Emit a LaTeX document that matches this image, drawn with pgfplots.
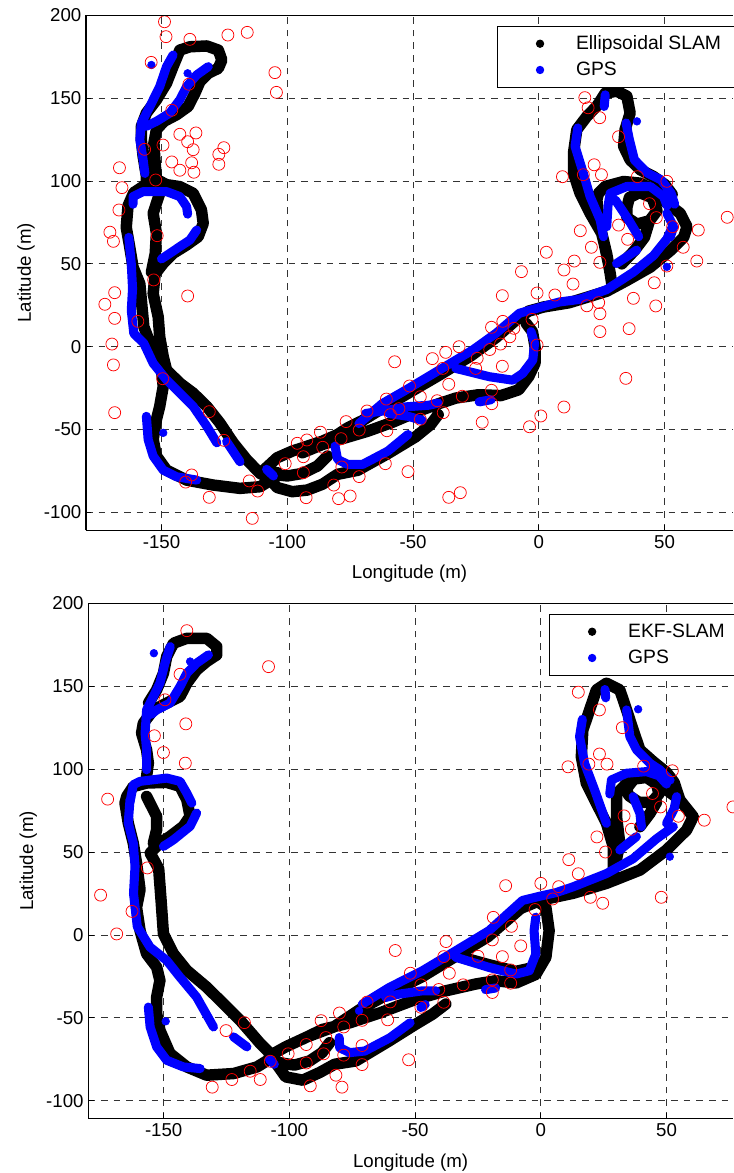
\documentclass[border=0pt]{standalone}
\usepackage{fontspec}
\setmainfont{Liberation Sans}
\usepackage{pgfplots}
\pgfplotsset{compat=1.18}

\pgfplotsset{
  slamaxis/.style={
    scale only axis,
    xmin=-180, ymin=-110.8, ymax=200,
    xtick={-150,-100,-50,0,50},
    ytick={-100,-50,0,50,100,150,200},
    axis lines=left,
    axis line style={-, line width=0.8pt},
    tick align=inside,
    major tick length=4pt,
    tick style={black, line width=0.6pt},
    grid=major,
    major grid style={black!80, dash pattern=on 5pt off 4.5pt, line width=0.55pt},
    tick label style={font=\fontsize{14}{16}\selectfont},
    label style={font=\fontsize{14}{16}\selectfont},
    xlabel style={yshift=-6pt},
    /pgf/number format/assume math mode=true,
    xlabel={Longitude (m)},
    ylabel={Latitude (m)},
    unbounded coords=jump,
    legend cell align=left,
    legend style={draw=black, line width=0.8pt, fill=white, inner xsep=15pt, inner ysep=6.8pt,
      row sep=7.7pt, nodes={inner xsep=0pt, inner ysep=0pt},
      font=\fontsize{14.5}{16}\selectfont, anchor=north west},
  },
  slamk/.style={black, line width=8.6pt, line cap=round, line join=round, forget plot},
  gps/.style={blue, line width=6.8pt, line cap=round, line join=round, forget plot},
  gpsdot/.style={blue, only marks, mark=*, mark size=2.9pt, forget plot},
  lm/.style={red, only marks, mark=o, mark size=4.5pt, line width=0.55pt, forget plot},
  kdot/.style={legend image code/.code={\fill[black] (0pt,0pt) circle (2.7pt);
      \path[draw=none,fill=none] (-17pt,-6pt) rectangle (27pt,6pt);}},
  bdot/.style={legend image code/.code={\fill[blue] (0pt,0pt) circle (2.7pt);
      \path[draw=none,fill=none] (-17pt,-6pt) rectangle (27pt,6pt);}},
}

\begin{document}
\begin{tikzpicture}

% ---------------- top: ellipsoidal SLAM ----------------
\begin{axis}[slamaxis, name=top, at={(0,0)}, anchor=north west,
  width=485.25pt, height=386.25pt, xmax=77.2,
  legend style={at={(0.635,0.979)}}]

\addplot[slamk] coordinates {
 (-156,97) (-156,103) (-157.3,115) (-158,125) (-158,133) (-156,141) (-152,149) (-148,159) (-145.4,169)
 (-142.7,179) (-138.7,181) (-132,181.5) (-127.4,179) (-126,173) (-127.4,168) (-131.4,165) (-134.7,160)
 (-136.7,153) (-139.4,145) (-144,140) (-149,136) (-152,131) (-153,123) (-152.7,115) (-152,101)
 (-148,97.8) (-142.7,96.6) (-137.4,92.6) (-134.1,82.5) (-133.4,74.4) (-135.4,66.4) (-140,61.4)
 (-145.4,56.3) (-149.3,50.3) (-152.5,44) (-153.3,32) (-151.3,18) (-150.7,6) (-149.3,-6) (-148,-14)
 (-142.7,-22) (-137.4,-28) (-132,-36) (-126.8,-46) (-121.5,-58) (-116.2,-68) (-110.8,-76.5) (-106,-80)
 (nan,nan)
 (-152,98) (-157,97) (-161,93) (-163.3,85) (-164,72) (-162.6,60) (-161.3,48) (-158.6,38) (-157.8,25)
 (-157,12) (-154,0) (-150,-14) (-149.3,-24) (-150.7,-36) (-152,-44) (-153.3,-56) (-152,-66)
 (-148,-74.5) (-140,-80.5) (-129.4,-83.5) (-118.8,-85.5) (-110.8,-84.5) (-106,-80) (-104,-76)
 (nan,nan)
 (-150.7,92.6) (-153.3,80.5) (-152,68.4) (-152.5,56) (-154,45)
 (nan,nan)
 (-109,-74) (-104,-67) (-98,-63) (-92,-60) (-86,-57) (-80,-53) (-76,-49) (-70,-44.5) (-62,-37)
 (-53,-29) (-40,-17.5) (-27,-5.5) (-17,5.5) (-8,17.5) (-4,21.5) (2,24) (12,26.5) (27,33.5) (35,40)
 (44.3,48) (52.3,58) (57.6,66) (58.9,72.4) (56.2,80.5) (50.9,86.6) (45.6,94.6) (40.3,98.7) (33.7,99.7)
 (26.4,96.7) (23.7,92.6) (23.1,88.6) (23.7,76.5) (25.7,64.4) (27.7,50) (28.4,44) (29,38)
 (nan,nan)
 (-108,-78) (-104,-85) (-98,-87.5) (-92,-86.5) (-86,-83) (-80,-77) (-72,-74.6) (-60,-64.5) (-49,-54.4)
 (-43,-47) (-40,-41)
 (nan,nan)
 (-106,-77) (-100,-78) (-94,-76.5) (-88,-72) (-84,-66)
 (nan,nan)
 (-94,-64) (-86,-59) (-78,-55.5) (-68,-51) (-58,-45.5) (-48,-39) (-40,-34.5) (-33,-31) (-24,-29)
 (-15,-29.5) (-8,-26) (-4,-18) (-1.5,-10) (-1.5,0) (-2.5,9) (-5,14)
 (nan,nan)
 (28.4,44) (27,56) (25,68.4) (20.4,80.5) (16.4,92.6) (13.8,104.7) (13.8,117) (15.1,131) (19.1,139)
 (23.1,145.2) (26.4,153) (31,154.2) (35,151.2) (36.3,141) (34.3,131) (33.7,121) (36.3,112.8)
 (40.3,106.8) (45.6,102.7) (50,98) (53,92)
 (nan,nan)
 (35,84) (36,90) (40,93) (45,90) (47,82) (44,76) (39,74) (35,78) (35,84)
 (nan,nan)
 (44,76) (42,66) (38,58) (33,50)
};

\addplot[gps] coordinates {
 (-145.4,176) (-148,169) (-150.7,157) (-154.6,145) (-158,135) (-158.6,125) (-157.3,113) (-156.6,104.6)
 (nan,nan)
 (-131.4,169) (-136,164) (-140,157) (-142.7,149) (-146.7,141) (-152,136) (-156,133)
 (nan,nan)
 (-161.3,86) (-161.3,90.6) (-157.3,93.6) (-148,93.6) (-142.7,90.6) (-140,84.5) (-139.6,80)
 (nan,nan)
 (-136,70.4) (-138.7,64.4) (-142.7,60.4) (-146.7,56.3) (-150,53)
 (nan,nan)
 (-163,66) (-162,50) (-161.5,35) (-162,22) (-161,8) (-157,2) (-153.3,-10) (-148,-20) (-142.7,-28)
 (-137.4,-36) (-132,-48) (-128,-58)
 (nan,nan)
 (-124.1,-57.3) (-118.8,-69.4)
 (nan,nan)
 (-156,-42) (-155.3,-56) (-153.3,-66) (-149.3,-74.5) (-144,-78.5) (-136,-80.5)
 (nan,nan)
 (-108.2,-74) (-105.5,-78)
 (nan,nan)
 (-71.5,-46.4) (-62.2,-34.3) (-52.9,-26.2) (-39.6,-14.1) (-26.3,-2) (-17,8.1) (-7.7,20.2) (1.6,24.2)
 (8.2,27) (16,28.5) (27,34.5) (37.6,45) (45.6,55) (50.9,65) (53,72)
 (nan,nan)
 (-33,-13.1) (-19.7,-18.1) (-10.4,-20.2) (-6.4,-16.1) (-2.4,-8.1) (-1.7,2) (-3.1,9.1)
 (nan,nan)
 (-68.9,-40.3) (-59.6,-38.3) (-52.9,-36.3) (-43.6,-35.3) (-40,-34)
 (nan,nan)
 (-59.6,-40.3) (-52,-42) (-46.3,-44.4)
 (nan,nan)
 (-81,-60) (-80,-68) (-76,-71) (-70,-71) (-60,-63) (-52,-53)
 (nan,nan)
 (-23.7,-33.3) (-19,-32)
 (nan,nan)
 (26.4,152) (26,145)
 (nan,nan)
 (15.5,132) (14.4,121) (17.7,104.7) (20.4,90.6) (24.4,76.5) (25.7,66.4)
 (nan,nan)
 (34.7,135) (36,125) (38,112.8) (43.3,104.7) (48.6,100.7) (52.6,92.6) (54,86)
 (nan,nan)
 (27,72.4) (27.5,85) (28.4,92.6) (35,96.7) (44.3,96.7) (49.6,90.6) (51,85)
 (nan,nan)
 (30.4,88.6) (35.7,76.5) (39.7,66.4)
 (nan,nan)
 (50.9,80.5) (53.6,72.4) (52.3,66.4)
 (nan,nan)
 (38.9,58.3) (30.9,50.2)
};

\addplot[gpsdot] coordinates {(-154,170) (-139.6,165) (39,136) (50.9,48.2) (-149.3,-52)};

\addplot[lm] coordinates {
 (-148.8,196.1) (-148.2,187.1) (-138.7,185.5) (-123.6,188.1) (-115.9,189.7) (-154.1,171.6) (-104.9,165.4)
 (-104.3,153.5) (-139.1,158.4) (-145.9,142.7) (-142.7,128.2) (-136.3,129) (-149.4,121.7) (-139.6,123.7)
 (-137.4,118.9) (-156.7,119.1) (-125.2,120.1) (-127.2,116.1) (-127.2,110.1) (-145.9,111.5) (-138,111)
 (-142.7,106.5) (-137.1,105.3) (-166.7,108) (-152.3,100.6) (-165.7,96) (-166.9,82.5) (-170.5,69.1)
 (-169.1,63.6) (-151.7,67) (-153.1,40.3) (-168.6,32.6) (-139.6,30.6) (-172.5,25.6) (-168.6,17.1)
 (-159.4,15.3) (-169.7,1.6) (-169.1,-11) (-149.5,-19.3) (-168.6,-39.8) (-131,-39.2) (-125.2,-56.5)
 (-138,-77.4) (-140.4,-81.7) (-131,-90.9) (-115.1,-81) (-111.8,-87.1) (-113.9,-103.6) (-100.8,-70.6)
 (-96,-58.3) (-92.2,-56.3) (-93.6,-66.4) (-93.6,-76) (-92.5,-91.1) (-86.8,-51.6) (-85.9,-60.7)
 (-81.5,-83.5) (-79.6,-91.7) (-75,-90.1) (-78.6,-55.5) (-78.3,-72.6) (-76.6,-45.2) (-71.4,-50.3)
 (-71.4,-78.4) (-68.3,-38.8) (-60.6,-31.6) (-59,-41) (-55.6,-37.4) (-60.4,-50.7) (-61,-70.6)
 (-52,-75.4) (-57.3,-9.1) (-51.4,-23.7) (-47.1,-30.2) (-47.1,-43.8) (-40.4,-32.6) (-38,-39.8)
 (-42.3,-7.2) (-37,-3.4) (-31.7,0) (-38.2,-13.1) (-35.8,-22.7) (-30.4,-29.9) (-22.5,-45.6)
 (-35.8,-90.9) (-31.2,-88.1) (-24.5,-7) (-25.1,-13.1) (-19.5,-1.7) (-18.8,11.7) (-14.3,15.3)
 (-15.2,1.6) (-14.5,-11.8) (-11.5,6) (-9.9,11.1) (-18.8,-26.3) (-18.7,-34.4) (-14.5,30.8) (-2.7,16.5)
 (-0.7,1) (-0.7,32.4) (6.4,31.2) (13.6,37.8) (0.8,-41.8) (-3.7,-48.3) (10,-36.4) (19.1,24.7)
 (23.8,26.6) (24.3,19.9) (24.3,9.1) (35.9,10.9) (37.6,29.2) (46.5,24.6) (45.9,38.6) (34.6,-19.1)
 (18.3,150.3) (19.6,144.2) (24.2,138.2) (31.7,126.7) (22,109.8) (9.4,102.6) (17.7,103.8) (24.9,103.8)
 (39.2,102.6) (50.9,99.8) (44,86.3) (46.7,77.9) (53.2,72.4) (63.4,70.4) (74.9,78.1) (16.5,70)
 (31.7,73.4) (35.3,64.8) (20.9,60) (57.4,60) (3,57) (14.1,51.7) (24.3,50.9) (10,46.3) (62.8,51.7)
 (50.9,48.7) (-6.9,45.3)
};

\addlegendimage{kdot}
\addlegendentry{Ellipsoidal SLAM}
\addlegendimage{bdot}
\addlegendentry{GPS}
\end{axis}
\draw[line width=0.8pt] (top.north west) -- (top.north east);

% ---------------- bottom: EKF-SLAM ----------------
\begin{axis}[slamaxis, name=bot, at={(1.7pt,-441pt)}, anchor=north west,
  width=483.5pt, height=386.5pt, xmax=76.4,
  legend style={at={(0.7146,0.979)}}]

\addplot[slamk] coordinates {
 (-156,140) (-152.8,147.8) (-150.1,157.8) (-148.8,167.9) (-146.1,175.9) (-140.8,178.9) (-132.9,178.9)
 (-128.9,173.9) (-128.9,168.9) (-132.9,164.9) (-136.9,159.8) (-140.8,151.8) (-143.5,143.8) (-148.8,139.8)
 (-154.1,135.7) (-158.1,127.7) (-158.8,121.7) (-156.8,111.6) (-156.1,103.6) (-156.8,95.6)
 (nan,nan)
 (-164.7,83.5) (-162.1,89.5) (-156.8,91.6) (-148.8,92) (-143.5,89.6) (-140.8,81.5) (-139.5,71.5)
 (-142.2,65.5) (-147.5,59.4) (-151.5,55.4) (-155.4,49.4) (-152,40) (-151,20) (-150.1,0.6) (-146.1,-11.4)
 (-140.8,-21.4) (-132.9,-31.5) (-124.9,-43.5) (-119.6,-51.5) (-111.6,-65.5) (-107.6,-71.5)
 (nan,nan)
 (-164.7,83.5) (-165.4,79.5) (-164.1,67.5) (-162.1,55.4) (-160.8,43.4) (-159.4,27.3) (-160.8,16.6)
 (-159.4,2.6) (-156.8,-11.4) (-152.8,-19.4) (-151.5,-27.5) (-152.8,-37.5) (-152.8,-47.5) (-151.5,-57.5)
 (-147.5,-71.5) (-140.8,-79.6) (-132.9,-84.6) (-122.2,-83.6) (-112.9,-79.6) (-106.3,-73.5)
 (nan,nan)
 (-156.8,83.5) (-152.8,71.5) (-152.8,63.5) (-154.1,55.4)
 (nan,nan)
 (-108,-73) (-101.5,-67.5) (-93,-61.5) (-82.4,-55.5) (-72,-45) (-60,-35) (-47,-25) (-34,-13) (-21,-1)
 (-8,16) (0,21) (12.8,25.1) (26.1,31.1) (39.4,39.1) (50,51.2) (58,63.3) (60.6,71.3) (55.3,81.4)
 (50,87.5) (44.7,95.5) (38.1,95.5) (34.1,91.4) (30.1,85) (30.1,71.3) (31.4,55.2) (30,45)
 (nan,nan)
 (-106,-76) (-101.5,-85.6) (-94.7,-87.6) (-88,-83) (-82,-78) (-73.6,-76) (-60.3,-63.9) (-49.7,-53.8)
 (-43.1,-47.8) (-37.8,-41.7)
 (nan,nan)
 (-104,-77) (-98,-78.5) (-92,-76) (-87,-71) (-84,-65)
 (nan,nan)
 (-95,-63) (-86.9,-57) (-76,-53) (-64,-47) (-50,-39) (-37.8,-33.7) (-25.9,-29.6) (-17.9,-27.6)
 (-9.9,-29) (-2,-23.8) (2,-13.5) (3.3,2.6) (2,16.7) (-2,21)
 (nan,nan)
 (-35,-12) (-20.6,-18) (-9.9,-22) (-4,-20)
 (nan,nan)
 (28.8,39) (28.8,53.2) (26.1,67.3) (22.1,79.4) (18.1,91.4) (16.1,107.5) (16.7,123.6) (19.4,135.7)
 (22.1,147.8) (26.1,151.8) (31.4,147.8) (34.1,135.7) (36.7,123.6) (39.4,111.6) (44.7,104.5) (50,98)
 (53,92) (55.3,81.4)
 (nan,nan)
 (34,88) (37,94) (42,95) (46,91) (47,85) (44,80) (39,80) (35,84) (34,88)
 (nan,nan)
 (39.4,65.3) (43.4,73.3) (46,80)
};

\addplot[gps] coordinates {
 (-147.4,173.9) (-149.5,163.9) (-151.5,151.8) (-154.1,143.8) (-156.8,135.7) (-157.4,121.7) (-156.8,111.6)
 (-156.8,99.6)
 (nan,nan)
 (-132.2,168.9) (-136.9,163.9) (-140.8,157.8) (-143.5,149.8) (-147.5,139.8) (-152.8,135.7) (-155,133)
 (nan,nan)
 (-163.4,80) (-162.1,90.6) (-159.4,92.6) (-148.8,94.6) (-143.5,92.6) (-140.8,85.5) (-138.8,79.5)
 (nan,nan)
 (-136.9,73.5) (-139.5,65.5) (-146.1,57.4) (-150.1,53.4)
 (nan,nan)
 (-163.4,81.5) (-164.1,67.5) (-162.1,55.4) (-161.4,41.4) (-162,25) (-160.5,5) (-155.4,-7.4) (-148.8,-15.4)
 (-143.5,-25.5) (-136.9,-37.5) (-130.2,-55.5)
 (nan,nan)
 (-122.2,-61.5) (-116.9,-67.5)
 (nan,nan)
 (-156.1,-43.5) (-155.4,-55.5) (-152.8,-67.5) (-148.8,-75.6) (-142.2,-79.6) (-135.5,-80.6)
 (nan,nan)
 (-108,-75) (-106,-78)
 (nan,nan)
 (-71,-41.7) (-60.3,-31.7) (-47.1,-21.6) (-33.8,-9.5) (-20.6,2.6) (-7.3,20.8) (0,23.5) (6,25.5)
 (12.8,29) (26.1,37) (36.7,46) (46,58) (52.7,65.3)
 (nan,nan)
 (-33.8,-13.5) (-20.6,-19.6) (-9.9,-23.6) (-4.6,-21.6) (-2,-11.5) (-2.7,2.6) (-2,10.7)
 (nan,nan)
 (-61.7,-37.7) (-56.4,-35.7) (-47.1,-33.7) (-41.8,-33.7)
 (nan,nan)
 (-47.7,-43.8) (-46,-42)
 (nan,nan)
 (-80.2,-61.9) (-80,-68) (-76,-71) (-70,-70) (-60,-62) (-52,-53)
 (nan,nan)
 (-22,-33) (-18,-32)
 (nan,nan)
 (25.5,148) (25.8,143)
 (nan,nan)
 (16.5,130) (15.4,119.6) (17.4,103.5) (21.4,87.4) (26.1,67.3)
 (nan,nan)
 (34.1,135.7) (35.4,119.6) (38.1,111.6) (43.4,103.5) (47.4,99.5) (51.4,93.4)
 (nan,nan)
 (27.4,85) (28.1,93.5) (34.1,97.5) (42,98.5) (47,96) (50,91)
 (nan,nan)
 (36.7,83.4) (39.4,73.3) (40,65.3)
 (nan,nan)
 (54,83.4) (53,76) (50,67.3)
 (nan,nan)
 (31.4,51.2) (38,59.3)
};

\addplot[gpsdot] coordinates {(-153.9,169.9) (-139.5,164.9) (38.7,136.1) (51.3,47.2) (-149.2,-52.1) (-72.3,-45.8)};

\addplot[lm] coordinates {
 (-140.8,183.5) (-108.3,161.8) (-143.5,157.2) (-149.5,141.8) (-141.2,127.3) (-153.7,120.1) (-150.1,110)
 (-141.4,103.6) (-172.3,81.9) (-156.5,40.4) (-175.1,24) (-162.6,14.2) (-168.7,0.6) (-125.2,-57.7)
 (-117.9,-52.9) (-130.7,-91.8) (-122.9,-87.2) (-115.6,-82.2) (-111.6,-87.2) (-107.6,-76.2)
 (-100.5,-71.7) (-93.3,-66.1) (-93.3,-77.2) (-91.7,-91) (-87.4,-51.7) (-85.5,-61.9) (-86.4,-71.7)
 (-81.5,-84.6) (-79.1,-91.8) (-80.1,-47.1) (-78.4,-55.5) (-78.4,-72.5) (-71.1,-66.7) (-71.1,-78.2)
 (-69.1,-40.5) (-71.1,-51.5) (-59.9,-40.4) (-60.9,-51.2) (-52.6,-75.3) (-57.9,-9.4) (-51.9,-23.1)
 (-47.7,-30.1) (-47.7,-43.6) (-40.6,-32.9) (-38.6,-40.6) (-38.6,-13.1) (-37.7,-4) (-36.4,-23.1)
 (-30.9,-30.1) (-25,-12.9) (-19.3,-3) (-18.9,10.6) (-15.3,-13.1) (-11.7,5.2) (-8,-6.6) (-12,-21.1)
 (-12,-29.1) (-19.3,-27.1) (-19.3,-34.7) (-2.3,15.3) (4.7,21.7) (-14,29.7) (0,31.1) (7.1,29.1)
 (19.7,22.7) (24.6,19.1) (47.9,22.7) (14.9,146.4) (23.3,135.7) (32.4,125) (23.3,109.1) (19.1,103)
 (26.3,103) (10.8,101.4) (40.9,101.8) (52.3,99) (44.4,85.3) (47.6,77.2) (54.7,71.6) (65,69.2)
 (76.4,77.2) (33.1,71.8) (36,63.7) (22.3,59.1) (25.7,50) (11.1,45.4) (14.9,36.9)
};

\addlegendimage{kdot}
\addlegendentry{EKF-SLAM}
\addlegendimage{bdot}
\addlegendentry{GPS}
\end{axis}
\draw[line width=0.8pt] (bot.north west) -- (bot.north east);

\pgfresetboundingbox
\path (-64.5pt,11.475pt) rectangle (485.25pt,-868.275pt);
\end{tikzpicture}
\end{document}
